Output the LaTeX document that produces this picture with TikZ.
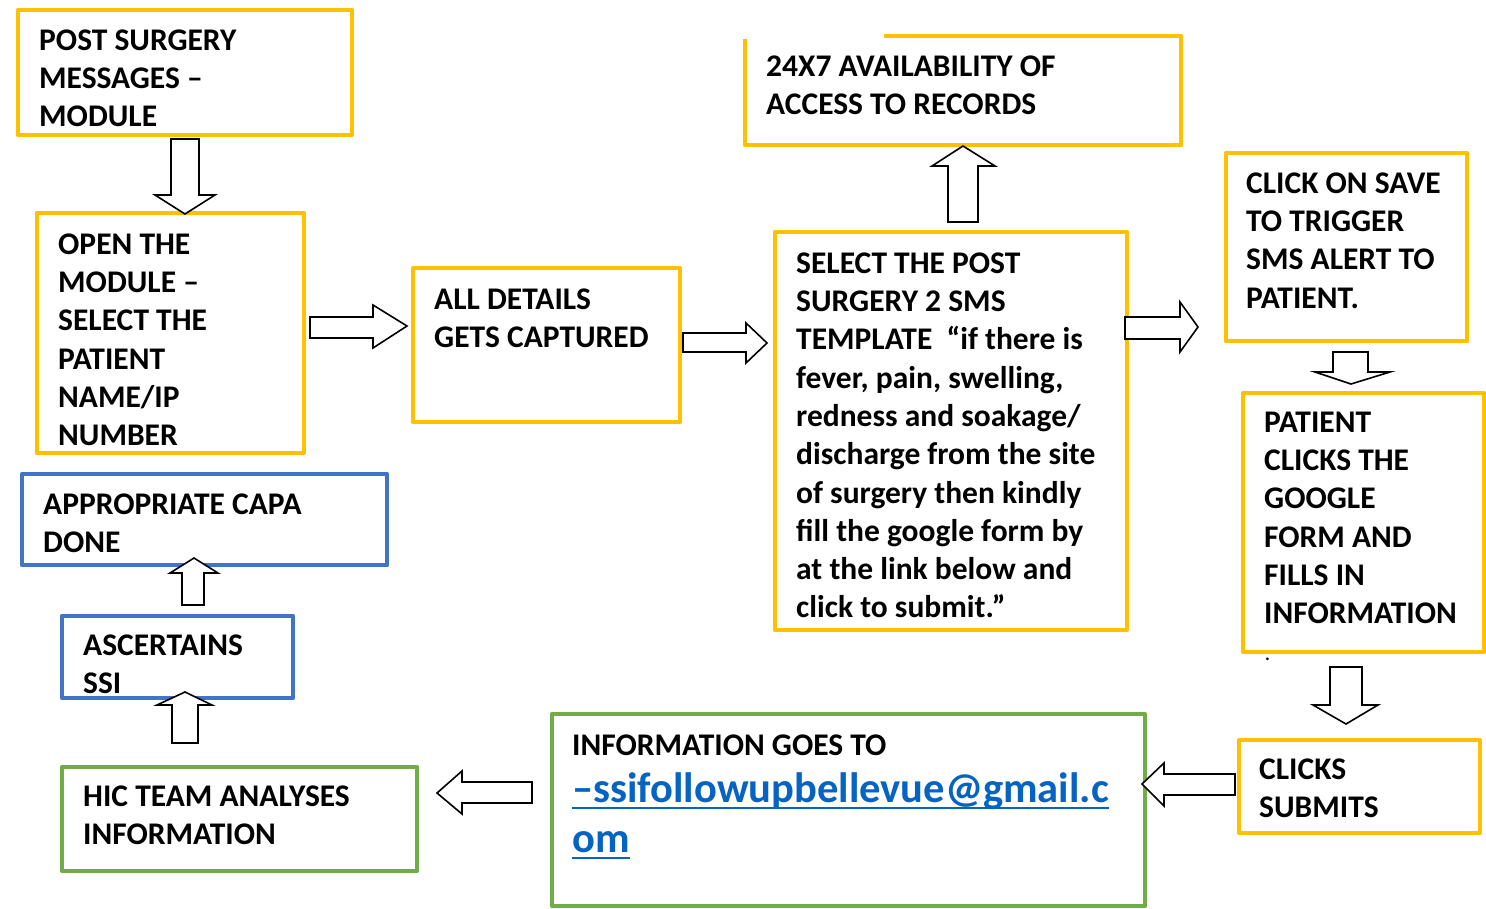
\documentclass[tikz,border=0pt]{standalone}
\usepackage{fontspec}
\setmainfont{Carlito}
\definecolor{myyellow}{HTML}{FFC000}
\definecolor{myblue}{HTML}{4472C4}
\definecolor{mygreen}{HTML}{70AD47}
\definecolor{linkblue}{HTML}{0563C1}
\newlength\ulwd
\newcommand\wordul[1]{\settowidth{\ulwd}{#1}\rlap{\rule[-7pt]{\ulwd}{2.6pt}}#1}
\tikzset{
  box/.style={line width=4.5pt, line join=round},
  ybox/.style={box, draw=myyellow},
  bbox/.style={box, draw=myblue},
  gbox/.style={box, draw=mygreen},
  txt/.style={anchor=north west, inner sep=0pt, align=left,
    font=\fontsize{31.5}{38.3}\selectfont\bfseries},
  mailtxt/.style={anchor=north west, inner sep=0pt, align=left, text=linkblue,
    font=\fontsize{42.5}{50}\selectfont\bfseries},
  barrow/.style={draw=black, fill=white, line width=1.6pt, line join=miter},
}
\begin{document}
\begin{tikzpicture}[x=1pt,y=-1pt]
\useasboundingbox (0,0) rectangle (1486,908);
% boxes
\draw[ybox] (18,10) rectangle (352,135);
\draw[ybox] (37,213) rectangle (304,453);
\draw[ybox] (413,268) rectangle (680,422);
\draw[ybox] (775,232) rectangle (1127,630);
\draw[ybox] (884,36) -- (1181,36) -- (1181,145) -- (745,145) -- (745,39);
\draw[ybox] (1226,153) rectangle (1467,341);
\draw[ybox] (1243,393) rectangle (1484,652);
\draw[ybox] (1239,740) rectangle (1480,833);
\draw[gbox] (552,714) rectangle (1145,906);
\draw[gbox] (62,767) rectangle (417,871);
\draw[bbox] (62,616) rectangle (293,698);
\draw[bbox] (22,474) rectangle (387,565);
% texts
\node[txt] (t1) at (39,25) {\rule{0pt}{25pt}POST SURGERY\\MESSAGES –\\MODULE};
\node[txt] (t2) at (58,229) {\rule{0pt}{25pt}OPEN THE\\MODULE –\\SELECT THE\\PATIENT\\NAME/IP\\NUMBER};
\node[txt] (t3) at (434,284) {\rule{0pt}{25pt}ALL DETAILS\\GETS CAPTURED};
\node[txt] (t4) at (796,248) {\rule{0pt}{25pt}SELECT THE POST\\SURGERY 2 SMS\\TEMPLATE \ “if there is\\fever, pain, swelling,\\redness and soakage/\\discharge from the site\\of surgery then kindly\\fill the google form by\\at the link below and\\click to submit.”};
\node[txt] (t5) at (766,51) {\rule{0pt}{25pt}24X7 AVAILABILITY OF\\ACCESS TO RECORDS};
\node[txt] (t6) at (1246,168) {\rule{0pt}{25pt}CLICK ON SAVE\\TO TRIGGER\\SMS ALERT TO\\PATIENT.};
\node[txt] (t7) at (1264,407) {\rule{0pt}{25pt}PATIENT\\CLICKS THE\\GOOGLE\\FORM AND\\FILLS IN\\INFORMATION};
\node[anchor=base west, inner sep=0pt, font=\fontsize{18}{20}\selectfont\bfseries] (dot) at (1265,660) {.};
\node[txt] (t8) at (1259,754) {\rule{0pt}{25pt}CLICKS\\SUBMITS};
\node[txt] (t9) at (572,730) {\rule{0pt}{25pt}INFORMATION GOES TO};
\node[mailtxt] (t9m) at (572,768) {\rule{0pt}{34pt}\wordul{–ssifollowupbellevue@gmail.c}\\\wordul{om}};
\node[txt] (t10) at (83,781) {\rule{0pt}{25pt}HIC TEAM ANALYSES\\INFORMATION};
\node[txt] (t11) at (83,630) {\rule{0pt}{25pt}ASCERTAINS\\SSI};
\node[txt] (t12) at (43,489) {\rule{0pt}{25pt}APPROPRIATE CAPA\\DONE};
% block arrows
\draw[barrow] (171,139) -- (199,139) -- (199,195) -- (215,195) -- (185,214) -- (155,195) -- (171,195) -- cycle;
\draw[barrow] (310,317) -- (373,317) -- (373,305) -- (407,326) -- (373,348) -- (373,338) -- (310,338) -- cycle;
\draw[barrow] (683,333) -- (746,333) -- (746,323) -- (767,343) -- (746,363) -- (746,352) -- (683,352) -- cycle;
\draw[barrow] (948,222) -- (948,166) -- (932,166) -- (963,146) -- (995,166) -- (978,166) -- (978,222) -- cycle;
\draw[barrow] (1125,317) -- (1180,317) -- (1180,302) -- (1198,327) -- (1180,352) -- (1180,339) -- (1125,339) -- cycle;
\draw[barrow] (1333,352) -- (1368,352) -- (1368,372) -- (1390,372) -- (1351,384) -- (1315,372) -- (1333,372) -- cycle;
\draw[barrow] (1330,667) -- (1362,667) -- (1362,705) -- (1378,705) -- (1346,724) -- (1313,705) -- (1330,705) -- cycle;
\draw[barrow] (1235,774) -- (1164,774) -- (1164,763) -- (1142,784) -- (1164,806) -- (1164,795) -- (1235,795) -- cycle;
\draw[barrow] (532,782) -- (462,782) -- (462,771) -- (437,793) -- (462,814) -- (462,803) -- (532,803) -- cycle;
\draw[barrow] (172,743) -- (172,705) -- (157,705) -- (185,692) -- (212,705) -- (198,705) -- (198,743) -- cycle;
\draw[barrow] (182,605) -- (182,573) -- (170,573) -- (194,558) -- (218,573) -- (204,573) -- (204,605) -- cycle;
\end{tikzpicture}
\end{document}
